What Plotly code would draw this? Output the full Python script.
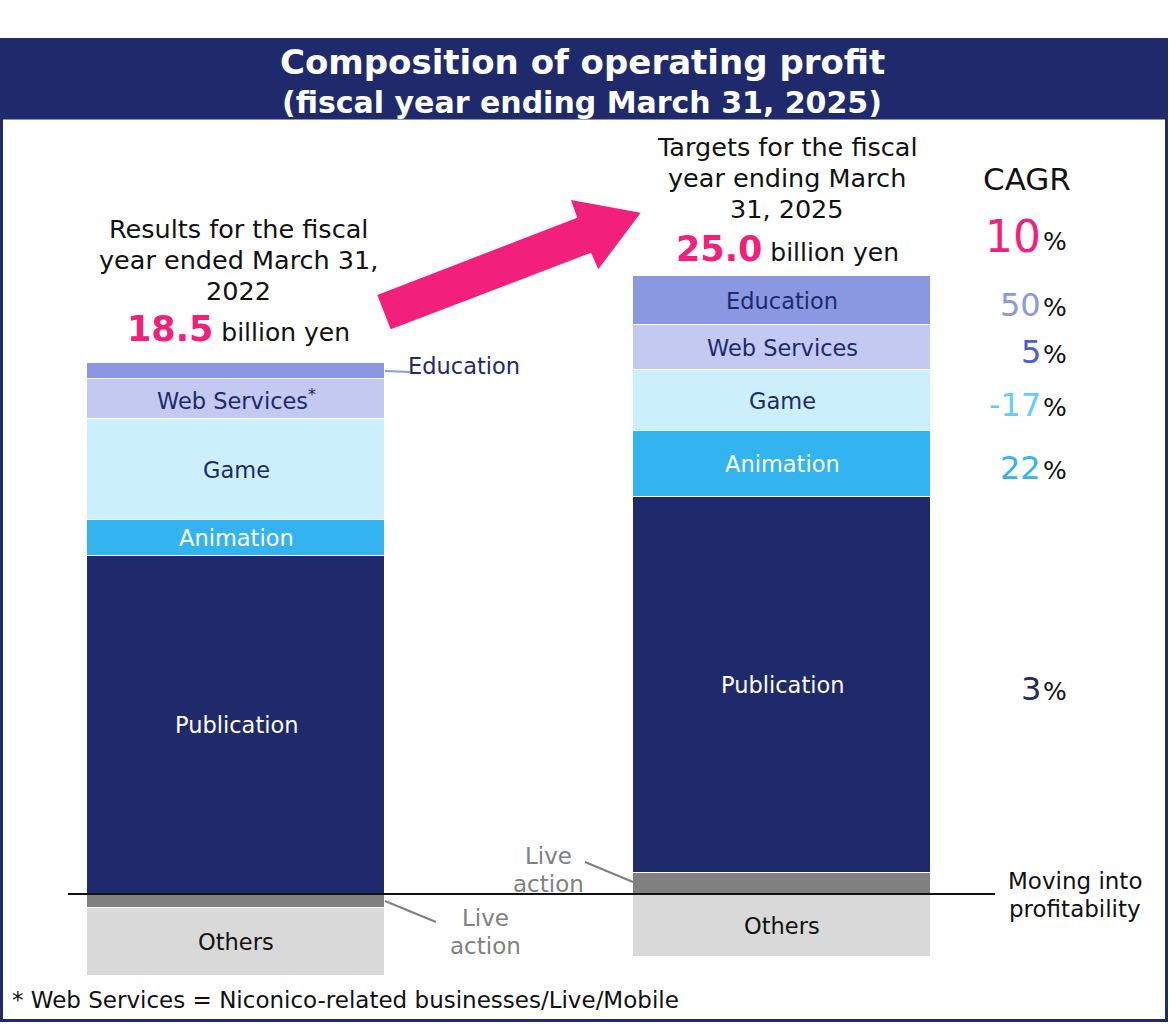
import plotly.graph_objects as go

# ---------------- data (billion yen) ----------------
bars = ["FY2022", "FY2025"]
segments = ["Live action", "Publication", "Animation", "Game", "Web Services", "Education", "Others"]
live_action = [-0.6, 0.9]
publication = [14.4, 16.0]
animation = [1.5, 2.8]
game = [4.3, 2.6]
web_services = [1.7, 1.9]
education = [0.7, 2.1]
others = [-2.9, -2.7]
totals = ["18.5", "25.0"]
cagr_values = ["10", "50", "5", "-17", "22", "3"]

W, H = 1170, 1024
NAVY = "#1E2A6C"
PINK = "#F2207A"
FONT = "DejaVu Sans"

colors = {
    "Live action": "#808080",
    "Publication": "#1E2A6C",
    "Animation": "#33B3F0",
    "Game": "#CCEFFC",
    "Web Services": "#C3C9F0",
    "Education": "#8A98E2",
    "Others": "#D9D9D9",
}
series = {
    "Live action": live_action,
    "Publication": publication,
    "Animation": animation,
    "Game": game,
    "Web Services": web_services,
    "Education": education,
    "Others": others,
}

fig = go.Figure()
for name in segments:
    fig.add_trace(go.Bar(
        x=bars, y=series[name], name=name,
        marker=dict(color=colors[name], line=dict(color="white", width=1)),
        width=0.546, hoverinfo="skip", showlegend=False,
    ))

# pixel helpers for decorative elements
def px(x):
    return x / W

def py(y):
    return 1 - y / H

# axis ranges so that zero lies at pixel 894 and 23.5 px per billion
scale = 23.5
y_top = 894 / scale
y_bot = -(H - 894) / scale
cat_unit = 546.0
x_lo = -236 / cat_unit
x_hi = 1 + (W - 782) / cat_unit

annotations = []
shapes = []

# ---- segment labels from data ----
def stack_mid(i, name):
    pos_order = [n for n in segments if series[n][i] >= 0]
    neg_order = [n for n in segments if series[n][i] < 0]
    acc = 0.0
    order = pos_order if series[name][i] >= 0 else neg_order
    for n in order:
        v = series[n][i]
        if n == name:
            return acc + v / 2
        acc += v
    return 0

label_colors = {
    "Publication": "white", "Animation": "white", "Game": NAVY,
    "Web Services": NAVY, "Education": NAVY, "Others": "#111111",
}
for i, b in enumerate(bars):
    for name in ["Publication", "Animation", "Game", "Web Services", "Education", "Others"]:
        if i == 0 and name == "Education":
            continue
        txt = name
        if i == 0 and name == "Web Services":
            txt = "Web Services<sup>*</sup>"
        annotations.append(dict(
            x=b, y=stack_mid(i, name), xref="x", yref="y", text=txt, showarrow=False,
            font=dict(family=FONT, size=22.5, color=label_colors[name]),
            xanchor="center", yanchor="middle",
        ))

# ---- CAGR labels next to bar 2 ----
cagr_rows = [
    (PINK, 44, None),
    ("#8A98E2", 32, "Education"),
    ("#4C5BD0", 32, "Web Services"),
    ("#66CCFF", 32, "Game"),
    ("#33B3F0", 32, "Animation"),
    (NAVY, 32, "Publication"),
]
for (col, fs, seg), v in zip(cagr_rows, cagr_values):
    if seg is None:
        yy, yref = py(236), "paper"
    else:
        yy, yref = stack_mid(1, seg), "y"
    yoff = 4 if seg else 0
    annotations.append(dict(
        x=px(1043), y=yy, xref="paper", yref=yref, text=v, showarrow=False,
        font=dict(family=FONT, size=fs, color=col), xanchor="right", yanchor="middle",
        yshift=-yoff,
    ))
    annotations.append(dict(
        x=px(1041), y=yy, xref="paper", yref=yref, text="%", showarrow=False,
        font=dict(family=FONT, size=25, color="#111111"), xanchor="left", yanchor="middle",
        yshift=-yoff - (5 if seg is None else 3),
    ))

annotations.append(dict(x=px(1027), y=py(179), xref="paper", yref="paper", text="CAGR",
                        showarrow=False, font=dict(family=FONT, size=31, color="#111111"),
                        xanchor="center", yanchor="middle"))

# ---- header texts ----
annotations.append(dict(x=px(582), y=py(62), xref="paper", yref="paper",
                        text="<b>Composition of operating profit</b>", showarrow=False,
                        font=dict(family=FONT, size=34, color="white"),
                        xanchor="center", yanchor="middle"))
annotations.append(dict(x=px(582), y=py(102), xref="paper", yref="paper",
                        text="<b>(fiscal year ending March 31, 2025)</b>", showarrow=False,
                        font=dict(family=FONT, size=30, color="white"),
                        xanchor="center", yanchor="middle"))

# ---- bar headings ----
for line, yy in [("Results for the fiscal", 229), ("year ended March 31,", 260), ("2022", 291)]:
    annotations.append(dict(x=px(238), y=py(yy), xref="paper", yref="paper", text=line,
                            showarrow=False, font=dict(family=FONT, size=25.5, color="#111111"),
                            xanchor="center", yanchor="middle"))
for line, yy in [("Targets for the fiscal", 147), ("year ending March", 178), ("31, 2025", 209)]:
    annotations.append(dict(x=px(787), y=py(yy), xref="paper", yref="paper", text=line,
                            showarrow=False, font=dict(family=FONT, size=25.5, color="#111111"),
                            xanchor="center", yanchor="middle"))
for tot, cx, yy in [(totals[0], 238, 329), (totals[1], 787, 249)]:
    annotations.append(dict(
        x=px(cx), y=py(yy), xref="paper", yref="paper",
        text=f"<b><span style='color:{PINK};font-size:35px'>{tot}</span></b> billion yen",
        showarrow=False, font=dict(family=FONT, size=25, color="#111111"),
        xanchor="center", yanchor="middle"))

# ---- outside labels with leader lines ----
GRAY = "#808080"
annotations.append(dict(x=px(406), y=py(366), xref="paper", yref="paper", text="Education",
                        showarrow=False, font=dict(family=FONT, size=22.5, color=NAVY),
                        xanchor="left", yanchor="middle"))
shapes.append(dict(type="line", xref="paper", yref="paper", x0=px(385), y0=py(371),
                   x1=px(410), y1=py(372), line=dict(color="#8A98E2", width=2)))
for cx, y1, y2 in [(485, 918, 946), (548, 856, 884)]:
    annotations.append(dict(x=px(cx), y=py(y1), xref="paper", yref="paper", text="Live",
                            showarrow=False, font=dict(family=FONT, size=23, color=GRAY),
                            xanchor="center", yanchor="middle"))
    annotations.append(dict(x=px(cx), y=py(y2), xref="paper", yref="paper", text="action",
                            showarrow=False, font=dict(family=FONT, size=23, color=GRAY),
                            xanchor="center", yanchor="middle"))
shapes.append(dict(type="line", xref="paper", yref="paper", x0=px(385), y0=py(901),
                   x1=px(436), y1=py(922), line=dict(color=GRAY, width=2)))
shapes.append(dict(type="line", xref="paper", yref="paper", x0=px(633), y0=py(882),
                   x1=px(585), y1=py(862), line=dict(color=GRAY, width=2)))

annotations.append(dict(x=px(1075), y=py(881), xref="paper", yref="paper", text="Moving into",
                        showarrow=False, font=dict(family=FONT, size=23, color="#111111"),
                        xanchor="center", yanchor="middle"))
annotations.append(dict(x=px(1075), y=py(909), xref="paper", yref="paper", text="profitability",
                        showarrow=False, font=dict(family=FONT, size=23, color="#111111"),
                        xanchor="center", yanchor="middle"))

annotations.append(dict(x=px(10), y=py(1000), xref="paper", yref="paper",
                        text="* Web Services = Niconico-related businesses/Live/Mobile",
                        showarrow=False, font=dict(family=FONT, size=23, color="#111111"),
                        xanchor="left", yanchor="middle"))

# ---- frame and header ----
shapes.append(dict(type="rect", xref="paper", yref="paper", x0=px(0), y0=py(118),
                   x1=px(1168), y1=py(38), fillcolor=NAVY, line=dict(width=0), layer="below"))
shapes.append(dict(type="rect", xref="paper", yref="paper", x0=px(1.5), y0=py(1020.5),
                   x1=px(1166.5), y1=py(118), fillcolor="rgba(0,0,0,0)",
                   line=dict(color=NAVY, width=3), layer="above"))

# zero line
shapes.append(dict(type="line", xref="paper", yref="y", x0=px(68), y0=0, x1=px(995), y1=0,
                   line=dict(color="#111111", width=2), layer="above"))

# pink arrow
pts = [(377.3, 295), (577.3, 217.7), (571, 200), (640.7, 212.7), (598.3, 269.3),
       (591, 252.7), (390.7, 329.3)]
path = "M " + " L ".join(f"{px(x):.5f},{py(y):.5f}" for x, y in pts) + " Z"
shapes.append(dict(type="path", xref="paper", yref="paper", path=path,
                   fillcolor=PINK, line=dict(width=0)))

fig.update_layout(
    width=W, height=H,
    barmode="relative",
    margin=dict(l=0, r=0, t=0, b=0),
    paper_bgcolor="white", plot_bgcolor="rgba(0,0,0,0)",
    xaxis=dict(range=[x_lo, x_hi], visible=False, fixedrange=True),
    yaxis=dict(range=[y_bot, y_top], visible=False, fixedrange=True),
    annotations=annotations, shapes=shapes,
    bargap=0, showlegend=False,
)

fig.write_html("out.html", config={"displayModeBar": False},
               post_script="document.body.style.margin='0';document.body.style.overflow='hidden';")
